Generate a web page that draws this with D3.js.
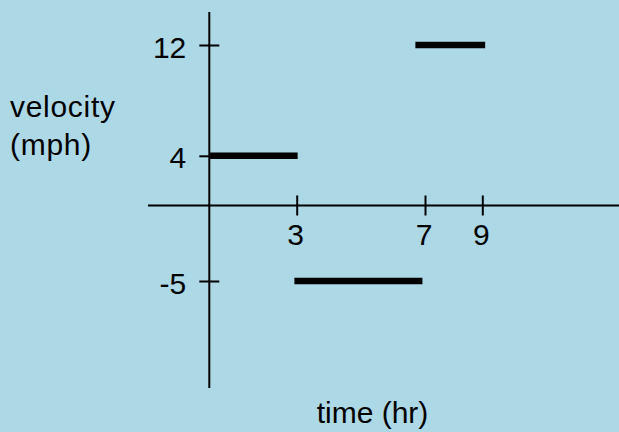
<!DOCTYPE html>
<html>
<head>
<meta charset="utf-8">
<script src="https://cdn.jsdelivr.net/npm/d3@7"></script>
<style>
  html, body { margin: 0; padding: 0; background: #add8e6; }
  svg { display: block; }
  text { font-family: "Liberation Sans", Arial, sans-serif; fill: #000; }
</style>
</head>
<body>
<script>
var w = 619;
var h = 432;

// tick values on each axis
var xTicks = [3, 7, 9];
var yTicks = [-5, 4, 12];

// velocity segments: start time, end time, velocity
var segStart = [0, 2.92, 6.7];
var segEnd = [3.03, 6.92, 9.1];
var segVelocity = [4, -5, 12];

var yLabel = ["velocity", "(mph)"];
var xLabel = "time (hr)";

var dataset = segVelocity.map(function(v, i) {
    return { x0: segStart[i], x1: segEnd[i], v: v };
});

// the drawing is not to scale, so use piecewise scales
var xScale = d3.scaleLinear()
    .domain([0, 3, 7, 9])
    .range([209.3, 296.7, 425, 482.3]);
var yScale = d3.scaleLinear()
    .domain([-5, 0, 4, 12])
    .range([281, 205.5, 155.8, 45]);

var svg = d3.select("body")
    .append("svg")
    .attr("width", w)
    .attr("height", h);

svg.append("rect")
    .attr("width", w)
    .attr("height", h)
    .attr("fill", "#add8e6");

//Axis lines
svg.append("line")
    .attr("x1", 148).attr("x2", w)
    .attr("y1", yScale(0)).attr("y2", yScale(0))
    .attr("stroke", "#000").attr("stroke-width", 2);
svg.append("line")
    .attr("x1", xScale(0)).attr("x2", xScale(0))
    .attr("y1", 12).attr("y2", 388)
    .attr("stroke", "#000").attr("stroke-width", 2);

//X axis ticks and labels
var xAxis = d3.axisBottom(xScale)
    .tickValues(xTicks)
    .tickFormat(function(d) { return String(d); })
    .tickSize(0)
    .tickPadding(18);
var gx = svg.append("g")
    .attr("transform", "translate(0," + yScale(0) + ")")
    .call(xAxis);
gx.select(".domain").remove();
gx.selectAll(".tick line")
    .attr("y1", -10).attr("y2", 10)
    .attr("stroke", "#000").attr("stroke-width", 2);
gx.selectAll(".tick text")
    .attr("font-size", 30)
    .attr("font-family", "Liberation Sans, Arial, sans-serif")
    .attr("fill", "#000")
    .attr("dx", "-0.05em");

//Y axis ticks and labels
var yAxis = d3.axisLeft(yScale)
    .tickValues(yTicks)
    .tickFormat(function(d) { return String(d); })
    .tickSize(0)
    .tickPadding(23);
var gy = svg.append("g")
    .attr("transform", "translate(" + xScale(0) + ",0)")
    .call(yAxis);
gy.select(".domain").remove();
gy.selectAll(".tick line")
    .attr("x1", -10).attr("x2", 10)
    .attr("stroke", "#000").attr("stroke-width", 2);
gy.selectAll(".tick text")
    .attr("font-size", 30)
    .attr("font-family", "Liberation Sans, Arial, sans-serif")
    .attr("fill", "#000")
    .attr("dy", "0.4em");

//Velocity segments
svg.selectAll(".seg")
    .data(dataset)
    .enter()
    .append("line")
    .attr("class", "seg")
    .attr("x1", function(d) { return xScale(d.x0); })
    .attr("x2", function(d) { return xScale(d.x1); })
    .attr("y1", function(d) { return yScale(d.v); })
    .attr("y2", function(d) { return yScale(d.v); })
    .attr("stroke", "#000")
    .attr("stroke-width", 6.5);

//Axis titles
svg.selectAll(".ylab")
    .data(yLabel)
    .enter()
    .append("text")
    .attr("class", "ylab")
    .attr("x", 10)
    .attr("y", function(d, i) { return 116.7 + i * 38.3; })
    .attr("font-size", 30)
    .attr("letter-spacing", 0.7)
    .text(function(d) { return d; });

svg.append("text")
    .attr("x", 372.5)
    .attr("y", 423.3)
    .attr("text-anchor", "middle")
    .attr("font-size", 30)
    .text(xLabel);
</script>
</body>
</html>
